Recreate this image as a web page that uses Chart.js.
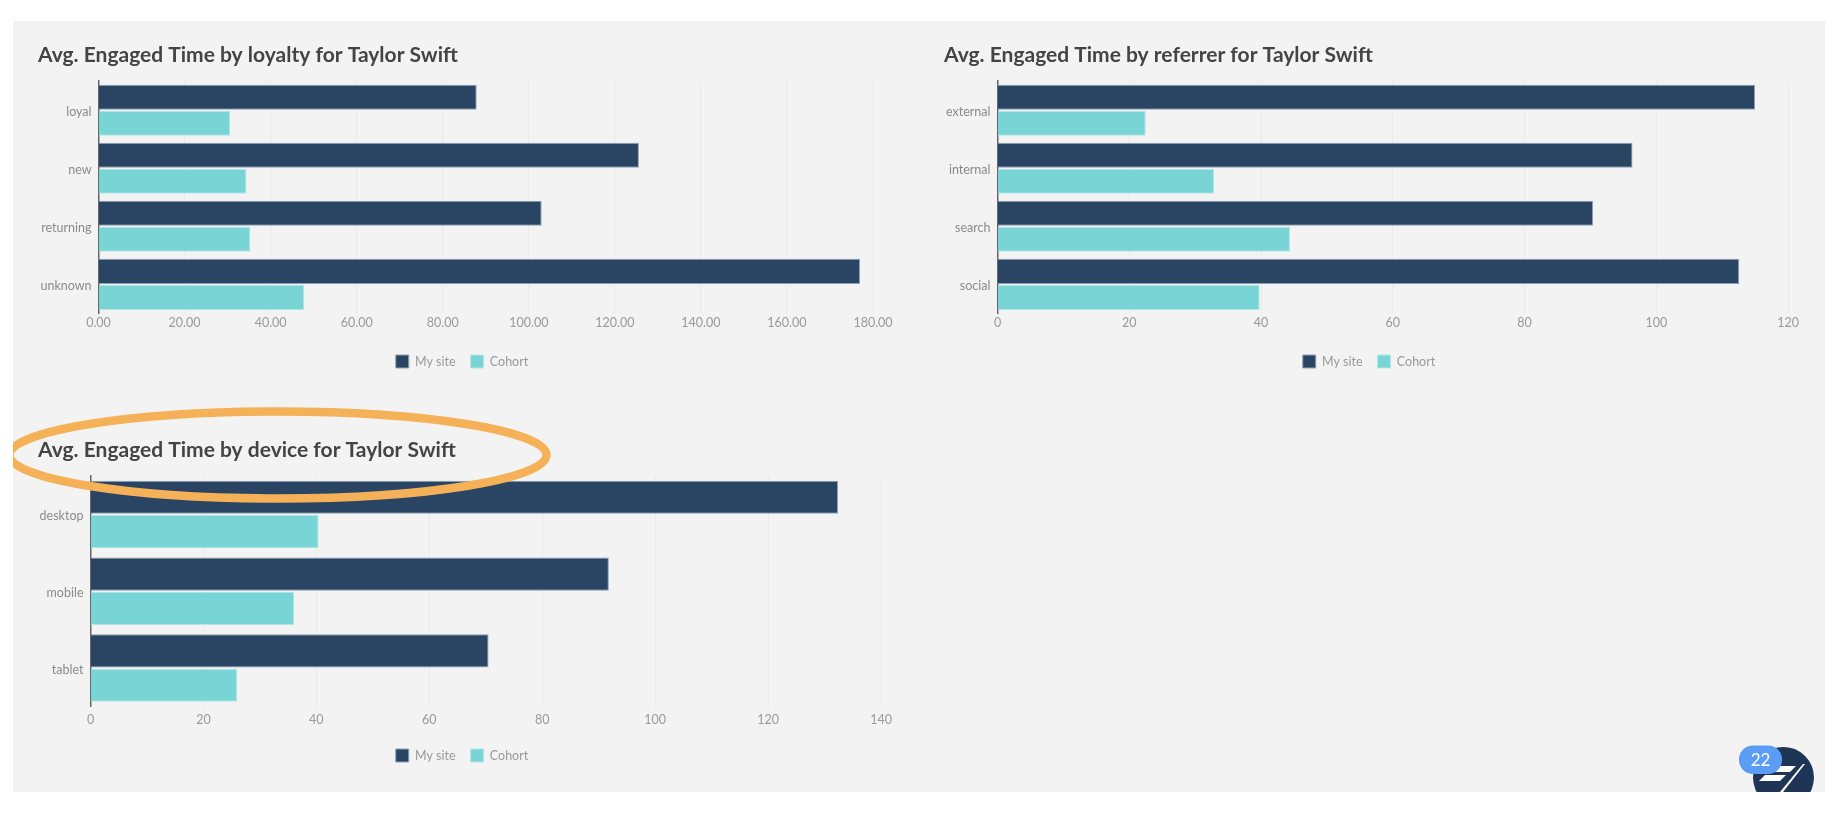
<!DOCTYPE html>
<html>
<head>
<meta charset="utf-8">
<script src="https://cdn.jsdelivr.net/npm/chart.js@4"></script>
<style>
html,body{margin:0;padding:0;background:#fff;width:1844px;height:814px;overflow:hidden}
#panel{position:absolute;left:13px;top:21px;width:1812px;height:771px;background:#f3f3f3;overflow:hidden}
canvas{position:absolute;display:block}
#marks{position:absolute;left:0;top:0}
</style>
</head>
<body>
<div id="panel">
<canvas id="c1" style="left:25px;top:20px"></canvas>
<canvas id="c2" style="left:931px;top:20px"></canvas>
<canvas id="c3" style="left:25px;top:416px"></canvas>
<svg id="marks" width="1812" height="771" viewBox="13 21 1812 771">
  <ellipse cx="278" cy="455" rx="268.5" ry="43.5" fill="none" stroke="#f4b158" stroke-width="8.5"/>
  <circle cx="1783.5" cy="777.5" r="30.5" fill="#1f3556"/>
  <polygon points="1768,766 1796,766 1790,772 1761,772" fill="#fff"/>
  <polygon points="1759,781 1765,775 1786,775 1780,781" fill="#fff"/>
  <polygon points="1803,764 1805,764 1783,792 1780,792" fill="#fff"/>
  <rect x="1739" y="745.5" width="43" height="28.5" rx="14" fill="#5b9df5"/>
  <text x="1760.5" y="766" text-anchor="middle" font-family="Lato" font-size="17" fill="#fff">22</text>
</svg>
</div>
<script>
const seriesNames = ["My site", "Cohort"];
const navy = "#2a4563";
const teal = "#79d4d6";
const loyaltyLabels = ["loyal", "new", "returning", "unknown"];
const loyaltyMySite = [87.9, 125.6, 103.0, 177.0];
const loyaltyCohort = [30.6, 34.4, 35.3, 47.8];
const referrerLabels = ["external", "internal", "search", "social"];
const referrerMySite = [115.0, 96.4, 90.4, 112.6];
const referrerCohort = [22.5, 32.9, 44.4, 39.8];
const deviceLabels = ["desktop", "mobile", "tablet"];
const deviceMySite = [132.4, 91.8, 70.5];
const deviceCohort = [40.4, 36.1, 26.0];

Chart.defaults.font.family = "Lato, 'Noto Sans', sans-serif";
Chart.defaults.animation = false;

const extraRight = 24;

const legendCentre = {
  id: "legendCentre",
  afterLayout(chart) { if (chart.legend) chart.legend.right = chart.width - extraRight; }
};

function build(id, cfg) {
  const el = document.getElementById(id);
  el.width = cfg.w + extraRight; el.height = cfg.h;
  new Chart(el, {
    type: "bar",
    plugins: [legendCentre],
    data: {
      labels: cfg.labels,
      datasets: [
        {label: seriesNames[0], data: cfg.a, backgroundColor: navy, borderColor: "#8ea0b4", borderWidth: 1},
        {label: seriesNames[1], data: cfg.b, backgroundColor: teal, borderColor: "#b4e6e6", borderWidth: 1}
      ]
    },
    options: {
      indexAxis: "y",
      responsive: false,
      devicePixelRatio: 1,
      categoryPercentage: 0.895,
      barPercentage: 0.965,
      scales: {
        x: {
          min: 0, max: cfg.max,
          afterFit(s) { s.height = cfg.xh; s.paddingLeft = 0; s.paddingRight = cfg.pr + extraRight; },
          grid: {color: "#e9e9e9", lineWidth: 1, drawTicks: false},
          border: {display: false},
          ticks: {stepSize: 20, padding: cfg.tp, maxRotation: 0, autoSkip: false, color: "#999", font: {size: 12.5},
                  callback: cfg.fmt}
        },
        y: {
          afterFit(s) { s.width = cfg.yw; s.paddingTop = 0; s.paddingBottom = 0; },
          grid: {drawOnChartArea: false, drawTicks: false},
          border: {display: true, color: "#666", width: 1.5},
          ticks: {padding: 7, labelOffset: 1.5, color: "#8a8a8a", font: {size: 12.5}}
        }
      },
      plugins: {
        title: {display: true, text: cfg.title, align: "start", color: "#444",
                font: {size: 21, weight: "bold", lineHeight: 1.2}, padding: {top: cfg.tt, bottom: cfg.tb}},
        legend: {position: "bottom",
                 labels: {boxWidth: 13, boxHeight: 13, padding: 15, color: "#999", font: {size: 12.5}}},
        tooltip: {enabled: false}
      }
    }
  });
}
const dec = v => Number(v).toFixed(2);
const int = v => String(v);
build("c1", {w: 848, h: 337, labels: loyaltyLabels, a: loyaltyMySite, b: loyaltyCohort, max: 180, fmt: dec,
  title: "Avg. Engaged Time by loyalty for Taylor Swift", yw: 60.5, pr: 13, xh: 26.6, tt: 1.4, tb: 13.6, tp: 2});
build("c2", {w: 850, h: 337, labels: referrerLabels, a: referrerMySite, b: referrerCohort, max: 120, fmt: int,
  title: "Avg. Engaged Time by referrer for Taylor Swift", yw: 53.5, pr: 6, xh: 26.6, tt: 1.4, tb: 13.6, tp: 2});
build("c3", {w: 848, h: 335, labels: deviceLabels, a: deviceMySite, b: deviceCohort, max: 140, fmt: int,
  title: "Avg. Engaged Time by device for Taylor Swift", yw: 52.5, pr: 5, xh: 27.5, tt: 0.5, tb: 13.3, tp: 5.5});
</script>
</body>
</html>
